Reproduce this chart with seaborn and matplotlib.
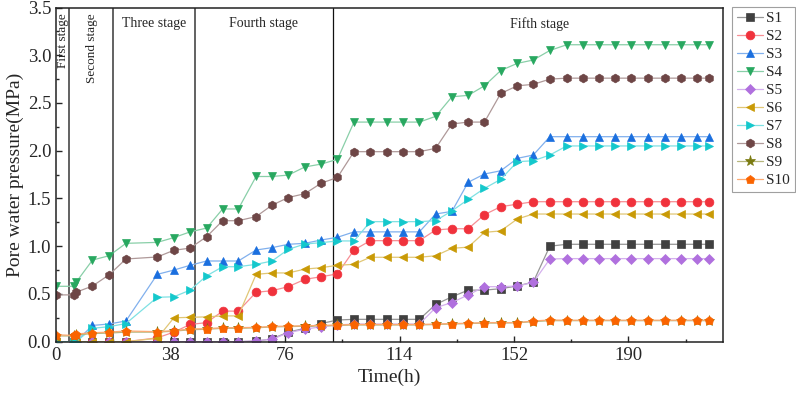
import numpy as np
import pandas as pd
import matplotlib
matplotlib.use("Agg")
import matplotlib.pyplot as plt
import matplotlib.colors as mcolors
from matplotlib.ticker import MultipleLocator
import seaborn as sns

# 측정 시간 (h)
time_h = [0, 5.8, 6.6, 12.1, 17.6, 23.2, 33.6, 39.1, 44.5, 50, 55.3, 60.5, 66.4, 71.7,
          77.1, 82.6, 88, 93.4, 98.9, 104.3, 109.8, 115.2, 120.6, 126, 131.4, 136.8,
          142.2, 147.6, 153.1, 158.4, 163.9, 169.5, 174.8, 180.2, 185.6, 191, 196.6,
          202, 207.3, 212.8, 216.8]

# 간극수압 (MPa)
s1 = [0] * 12 + [0.005, 0.03, 0.1, 0.14, 0.19, 0.227] + [0.234] * 5 + \
     [0.39, 0.47, 0.54, 0.54, 0.555, 0.583, 0.625, 1.0] + [1.02] * 10
s2 = [0] * 6 + [0.04, 0.1, 0.18, 0.20, 0.32, 0.32, 0.517, 0.534, 0.576, 0.653, 0.68, 0.71,
                0.96] + [1.058] * 4 + [1.17, 1.183, 1.183, 1.33, 1.414, 1.44, 1.466] + [1.466] * 11
s3 = [0, 0, 0, 0.17, 0.185, 0.217, 0.705, 0.75, 0.80, 0.845, 0.845, 0.845, 0.96, 0.985,
      1.02, 1.03, 1.065, 1.093] + [1.15] * 5 + \
     [1.337, 1.365, 1.67, 1.756, 1.79, 1.92, 1.955, 2.147] + [2.147] * 10
s4 = [0.58, 0.58, 0.62, 0.855, 0.90, 1.03, 1.04, 1.09, 1.15, 1.19, 1.39, 1.39, 1.73, 1.73,
      1.745, 1.83, 1.86, 1.91] + [2.30] * 5 + \
     [2.36, 2.565, 2.58, 2.68, 2.84, 2.915, 2.95, 3.05, 3.11] + [3.11] * 9
s5 = [0] * 12 + [0.01, 0.025, 0.094, 0.13, 0.157, 0.175] + [0.185] * 5 + \
     [0.356, 0.41, 0.49, 0.576, 0.576, 0.583, 0.62, 0.866] + [0.87] * 10
s6 = [0] * 6 + [0.035, 0.25, 0.255, 0.26, 0.27, 0.27, 0.705, 0.72, 0.72, 0.76, 0.775, 0.80,
                0.81] + [0.884] * 4 + [0.90, 0.978, 0.99, 1.145, 1.16, 1.285, 1.337] + [1.337] * 11
s7 = [0, 0, 0, 0.14, 0.157, 0.19, 0.465, 0.47, 0.54, 0.69, 0.785, 0.785, 0.81, 0.845,
      0.967, 1.023, 1.037, 1.055, 1.055] + [1.257] * 4 + \
     [1.267, 1.37, 1.49, 1.606, 1.70, 1.885, 1.895, 1.955, 2.05] + [2.05] * 9
s8 = [0.49, 0.49, 0.517, 0.583, 0.70, 0.866, 0.887, 0.957, 0.98, 1.10, 1.267, 1.267, 1.31,
      1.43, 1.51, 1.55, 1.66, 1.72] + [1.99] * 5 + \
     [2.025, 2.28, 2.30, 2.30, 2.60, 2.68, 2.695, 2.75, 2.76] + [2.76] * 9
s9 = [0.06, 0.06, 0.07, 0.085, 0.09, 0.1, 0.1, 0.11, 0.125, 0.13, 0.14, 0.14, 0.145, 0.155,
      0.158, 0.162, 0.165, 0.17] + [0.175] * 5 + \
     [0.18, 0.185, 0.19, 0.195, 0.195, 0.198, 0.21, 0.22] + [0.22] * 10
s10 = [0.073, 0.065, 0.08, 0.094, 0.1, 0.112, 0.105, 0.115, 0.133, 0.136, 0.147, 0.147,
       0.15, 0.16, 0.163, 0.167, 0.17, 0.175] + [0.18] * 5 + \
      [0.185, 0.19, 0.193, 0.2, 0.2, 0.2, 0.217, 0.227] + [0.225] * 10

names = ['S1', 'S2', 'S3', 'S4', 'S5', 'S6', 'S7', 'S8', 'S9', 'S10']
series = [s1, s2, s3, s4, s5, s6, s7, s8, s9, s10]
colors = ['#404040', '#f0323c', '#1a6fdf', '#28a860', '#b070de',
          '#c99a06', '#14c8cc', '#6e4646', '#7a7a10', '#fa6400']
markers = ['s', 'o', '^', 'v', 'D', '<', '>', 'h', '*', 'p']

# 단계 구분선 (h)
stage_lines = [4.4, 19, 46, 92]

sns.set_style('ticks')
plt.rcParams['font.family'] = ['Liberation Serif', 'DejaVu Serif']
plt.rcParams['xtick.direction'] = 'in'
plt.rcParams['ytick.direction'] = 'in'

fig = plt.figure(figsize=(7.96, 3.95), dpi=100)
ax = fig.add_axes([0.0704, 0.135, 0.838, 0.846])


def lighten(c, amt=0.45):
    r, g, b = mcolors.to_rgb(c)
    return (r + (1 - r) * amt, g + (1 - g) * amt, b + (1 - b) * amt)


for name, vals, c, m in zip(names, series, colors, markers):
    ms = 8 if m == '*' else (5.5 if m == 'D' else 6.3)
    sns.lineplot(x=time_h, y=vals, ax=ax, color=lighten(c), lw=0.9,
                 marker=m, markersize=ms, markerfacecolor=c, markeredgecolor=c,
                 markeredgewidth=0.5, label=name)

for i, xv in enumerate(stage_lines):
    ax.axvline(xv, color='#555555' if i < 3 else '#111111',
               lw=1.3 if i < 3 else 0.9, zorder=0.5)

ax.text(2.3, 3.44, 'First stage', rotation=90, ha='center', va='top', fontsize=9.5)
ax.text(11.8, 3.44, 'Second stage', rotation=90, ha='center', va='top', fontsize=9.5)
ax.text(32.5, 3.33, 'Three stage', ha='center', va='center', fontsize=10)
ax.text(69, 3.33, 'Fourth stage', ha='center', va='center', fontsize=10)
ax.text(160.5, 3.33, 'Fifth stage', ha='center', va='center', fontsize=10)

ax.set_xlim(0, 221.4)
ax.set_ylim(0, 3.5)
ax.xaxis.set_major_locator(MultipleLocator(38))
ax.xaxis.set_minor_locator(MultipleLocator(19))
ax.yaxis.set_major_locator(MultipleLocator(0.5))
ax.yaxis.set_minor_locator(MultipleLocator(0.25))
ax.yaxis.set_major_formatter(matplotlib.ticker.FormatStrFormatter('%.1f'))
ax.tick_params(which='major', length=4, width=1, labelsize=13.5, top=False, right=False)
ax.tick_params(which='minor', length=2.5, width=1)
ax.set_xlabel('Time(h)', fontsize=14)
ax.set_ylabel('Pore water pressure(MPa)', fontsize=14, labelpad=3)
for sp in ax.spines.values():
    sp.set_linewidth(1.1)
    sp.set_color('#222222')

leg = ax.legend(loc='upper left', bbox_to_anchor=(0.9196, 0.982),
                bbox_transform=fig.transFigure, fontsize=11, frameon=True,
                fancybox=False, edgecolor='#888888', labelspacing=0.28,
                handlelength=1.7, handletextpad=0.25, borderpad=0.3,
                borderaxespad=0)
leg.get_frame().set_linewidth(0.8)

fig.savefig('out.png', dpi=100)
